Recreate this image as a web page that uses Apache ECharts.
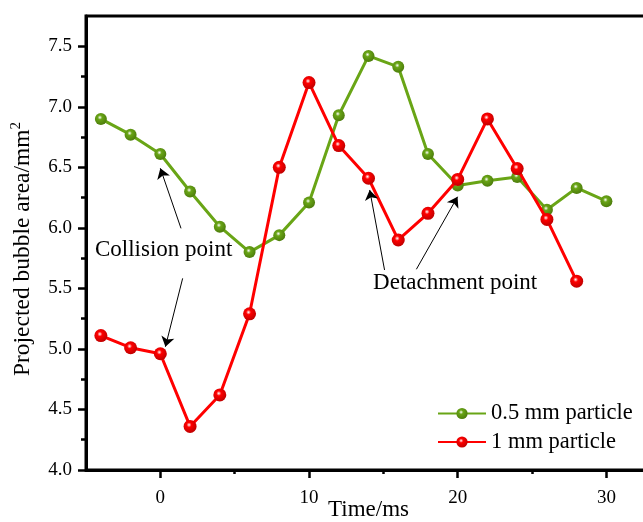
<!DOCTYPE html>
<html>
<head>
<meta charset="utf-8">
<script src="https://cdn.jsdelivr.net/npm/echarts@6/dist/echarts.min.js"></script>
<style>
html,body{margin:0;padding:0;background:#fff;}
#chart{width:643px;height:522px;}
</style>
</head>
<body>
<div id="chart"></div>
<script>
// ---- data ----
const times05 = [-4, -2, 0, 2, 4, 6, 8, 10, 12, 14, 16, 18, 20, 22, 24, 26, 28, 30];
const area05  = [6.90, 6.77, 6.61, 6.30, 6.01, 5.80, 5.94, 6.21, 6.93, 7.42, 7.33, 6.61, 6.35, 6.39, 6.42, 6.15, 6.33, 6.22];
const times1  = [-4, -2, 0, 2, 4, 6, 8, 10, 12, 14, 16, 18, 20, 22, 24, 26, 28];
const area1   = [5.11, 5.01, 4.96, 4.36, 4.62, 5.29, 6.50, 7.20, 6.68, 6.41, 5.90, 6.12, 6.40, 6.90, 6.49, 6.07, 5.56];
const seriesNames = ['0.5 mm particle', '1 mm particle'];
const xMajorTicks = [0, 10, 20, 30];
const xMinorTicks = [5, 15, 25];
const yMajorTicks = [4.0, 4.5, 5.0, 5.5, 6.0, 6.5, 7.0, 7.5];
const yMinorTicks = [4.25, 4.75, 5.25, 5.75, 6.25, 6.75, 7.25];
const xTitle = 'Time/ms';
const yTitle = 'Projected bubble area/mm';
const annotationTexts = ['Collision point', 'Detachment point'];
const annotationTextAt = [[0.22, 5.817], [19.83, 5.545]];
// arrows: [tail, head] in data units
const annotationArrows = [
  [[1.39, 5.996], [0.00, 6.492]],
  [[1.50, 5.583], [0.34, 5.018]],
  [[15.08, 5.652], [14.08, 6.313]],
  [[17.22, 5.658], [19.99, 6.257]]
];

// ---- styling ----
const FONT = '"Liberation Serif", "Times New Roman", serif';
const GREEN = '#69a516', GREEN_DARK = '#4d7d0c';
const RED = '#ff0000', RED_DARK = '#c00000';
function ball(base, dark) {
  return new echarts.graphic.RadialGradient(0.42, 0.38, 0.62, [
    {offset: 0, color: '#ffffff'},
    {offset: 0.3, color: base},
    {offset: 1, color: dark}
  ]);
}
const pairs = (xs, ys) => xs.map((x, i) => [x, ys[i]]);

const chart = echarts.init(document.getElementById('chart'), null, {renderer: 'canvas'});
const option = {
  animation: false,
  backgroundColor: '#fff',
  grid: {
    left: 86, top: 16, width: 565, height: 454,
    outerBoundsMode: 'none', containLabel: false,
    show: true, borderColor: '#000', borderWidth: 3, backgroundColor: 'transparent'
  },
  legend: {
    orient: 'vertical',
    left: 437, top: 402, padding: 0,
    itemWidth: 48, itemHeight: 14, itemGap: 5.5,
    textStyle: {fontFamily: FONT, fontSize: 22.5, color: '#000'},
    data: seriesNames
  },
  xAxis: [
    {
      type: 'value', min: -5, max: 33,
      name: xTitle, nameLocation: 'middle', nameGap: 28, nameMoveOverlap: false,
      nameTextStyle: {fontFamily: FONT, fontSize: 23, color: '#000'},
      axisLine: {show: true, onZero: false, lineStyle: {color: '#000', width: 3}},
      axisTick: {show: true, inside: false, length: 8, lineStyle: {color: '#000', width: 2.5}, customValues: xMajorTicks},
      axisLabel: {show: true, margin: 19, fontFamily: FONT, fontSize: 19, color: '#000', customValues: xMajorTicks},
      splitLine: {show: false}
    },
    {
      type: 'value', min: -5, max: 33, position: 'bottom', gridIndex: 0,
      axisLine: {show: false, onZero: false},
      axisTick: {show: true, inside: false, length: 4, lineStyle: {color: '#000', width: 2.5}, customValues: xMinorTicks},
      axisLabel: {show: false},
      splitLine: {show: false}
    }
  ],
  yAxis: [
    {
      type: 'value', min: 4, max: 7.75,
      name: yTitle + '{sup|2}', nameLocation: 'middle', nameGap: 50, nameRotate: 90, nameMoveOverlap: false,
      nameTextStyle: {fontFamily: FONT, fontSize: 23.5, color: '#000', padding: [0, 12, 0, 0],
        rich: {sup: {fontFamily: FONT, fontSize: 15, color: '#000', verticalAlign: 'top', padding: [0, 0, 12, 0]}}},
      axisLine: {show: true, onZero: false, lineStyle: {color: '#000', width: 3}},
      axisTick: {show: true, inside: false, length: 8, lineStyle: {color: '#000', width: 2.5}, customValues: yMajorTicks},
      axisLabel: {show: true, margin: 14, fontFamily: FONT, fontSize: 19, color: '#000', customValues: yMajorTicks,
        formatter: v => v.toFixed(1)},
      splitLine: {show: false}
    },
    {
      type: 'value', min: 4, max: 7.75, position: 'left', gridIndex: 0,
      axisLine: {show: false, onZero: false},
      axisTick: {show: true, inside: false, length: 5, lineStyle: {color: '#000', width: 2.5}, customValues: yMinorTicks},
      axisLabel: {show: false},
      splitLine: {show: false}
    }
  ],
  series: [
    {
      name: seriesNames[0], type: 'line', xAxisIndex: 0, yAxisIndex: 0,
      data: pairs(times05, area05),
      symbol: 'circle', symbolSize: 12,
      lineStyle: {color: GREEN, width: 3},
      itemStyle: {color: ball(GREEN, GREEN_DARK), borderWidth: 0},
      z: 3
    },
    {
      name: seriesNames[1], type: 'line', xAxisIndex: 0, yAxisIndex: 0,
      data: pairs(times1, area1),
      symbol: 'circle', symbolSize: 13,
      lineStyle: {color: RED, width: 3},
      itemStyle: {color: ball(RED, RED_DARK), borderWidth: 0},
      z: 4
    },
    {
      name: 'annotations', type: 'line', xAxisIndex: 0, yAxisIndex: 0,
      data: [], silent: true, z: 5,
      lineStyle: {color: '#000'}, itemStyle: {color: '#000'},
      markLine: {
        silent: true, animation: false,
        symbol: ['none', 'arrow'], symbolSize: 10,
        itemStyle: {color: '#000'},
        lineStyle: {color: '#000', width: 1, type: 'solid'},
        label: {show: false},
        data: annotationArrows.map(a => [{coord: a[0]}, {coord: a[1]}])
      },
      markPoint: {
        silent: true, animation: false,
        symbol: 'circle', symbolSize: 1,
        itemStyle: {color: 'rgba(0,0,0,0)'},
        label: {show: true, position: 'inside', formatter: '{b}', fontFamily: FONT, fontSize: 23, color: '#000'},
        data: annotationTexts.map((t, i) => ({name: t, coord: annotationTextAt[i]}))
      }
    }
  ]
};
chart.setOption(option);
</script>
</body>
</html>
